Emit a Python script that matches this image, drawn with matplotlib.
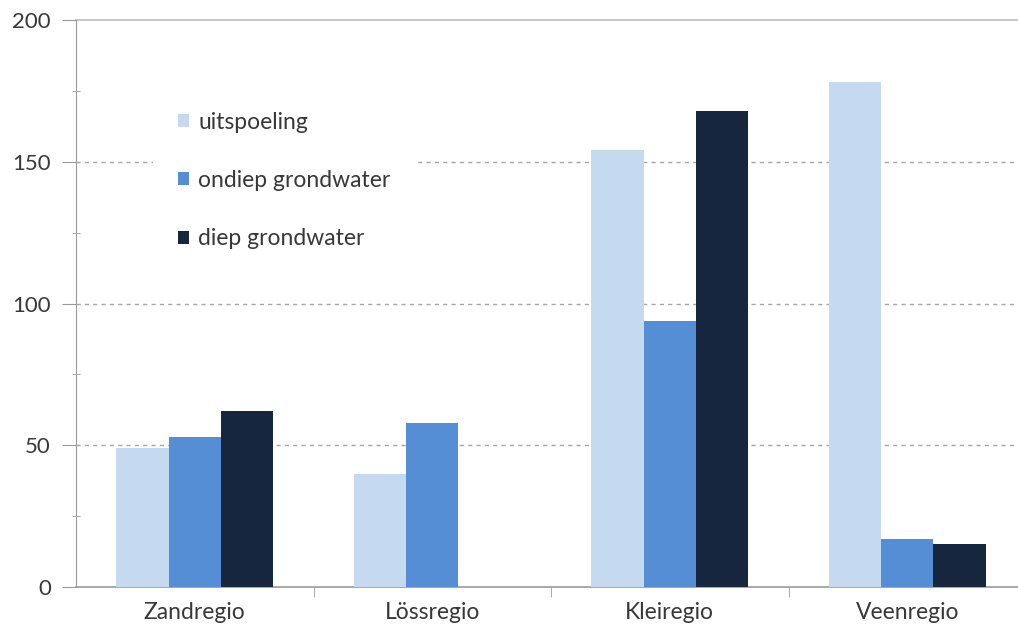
import matplotlib
matplotlib.use("Agg")
import matplotlib.pyplot as plt
import numpy as np
from matplotlib.patches import Patch
from matplotlib.ticker import MultipleLocator

categories = ["Zandregio", "Lössregio", "Kleiregio", "Veenregio"]
series_names = ["uitspoeling", "ondiep grondwater", "diep grondwater"]
uitspoeling = [49, 40, 154, 178]
ondiep = [53, 58, 94, 17]
diep = [62, 0, 168, 15]
colors = ["#c5d9f1", "#558ed5", "#17263f"]

plt.rcParams['font.family'] = ['Lato', 'DejaVu Sans']
txt = "#383838"
fs = 16.5

fig = plt.figure(figsize=(10.18, 6.35), dpi=100)
ax = fig.add_axes([76/1018, 1-587/635, 950/1018, 567/635])

x = np.arange(len(categories))
w = 0.221
for i, (vals, c) in enumerate(zip([uitspoeling, ondiep, diep], colors)):
    ax.bar(x + (i-1)*w, vals, width=w, color=c, zorder=3)

ax.set_xlim(-0.5, 3.5)
ax.set_ylim(0, 200)
ax.yaxis.set_major_locator(MultipleLocator(50))
ax.yaxis.set_minor_locator(MultipleLocator(25))
ax.set_xticks(x)
ax.set_xticklabels(categories)
ax.set_xticks(np.arange(0.5, 3.5, 1), minor=True)

for y in [50, 100, 150]:
    ax.axhline(y, color="#a6a6a6", lw=1.0, ls=(0, (3, 3)), zorder=1)

for s in ["top", "right"]:
    ax.spines[s].set_visible(False)
ax.axhline(200, color="#c8c8c8", lw=1.5, zorder=1, clip_on=False)
ax.spines["left"].set_color("#9a9a9a")
ax.spines["bottom"].set_color("#9a9a9a")
ax.spines["bottom"].set_linewidth(1.2)

ax.tick_params(axis="y", which="major", length=10, color="#9a9a9a", labelsize=16, labelcolor=txt, pad=8)
ax.tick_params(axis="y", which="minor", length=6, color="#9a9a9a", direction="inout")
ax.tick_params(axis="x", which="major", length=0, labelsize=fs, labelcolor=txt, pad=11)
ax.tick_params(axis="x", which="minor", length=7, color="#9a9a9a")

handles = [Patch(facecolor=c, edgecolor="none") for c in colors]
leg = ax.legend(handles, series_names, loc="upper left",
                bbox_to_anchor=(142/1018, 1-76/635), bbox_transform=fig.transFigure,
                frameon=True, facecolor="white", edgecolor="none", framealpha=1,
                fontsize=fs, labelcolor=txt, handlelength=0.5, handleheight=0.5,
                handletextpad=0.4, labelspacing=1.63, borderpad=1.05, fancybox=False)
leg.set_zorder(2)

fig.savefig("out.png", dpi=100)
